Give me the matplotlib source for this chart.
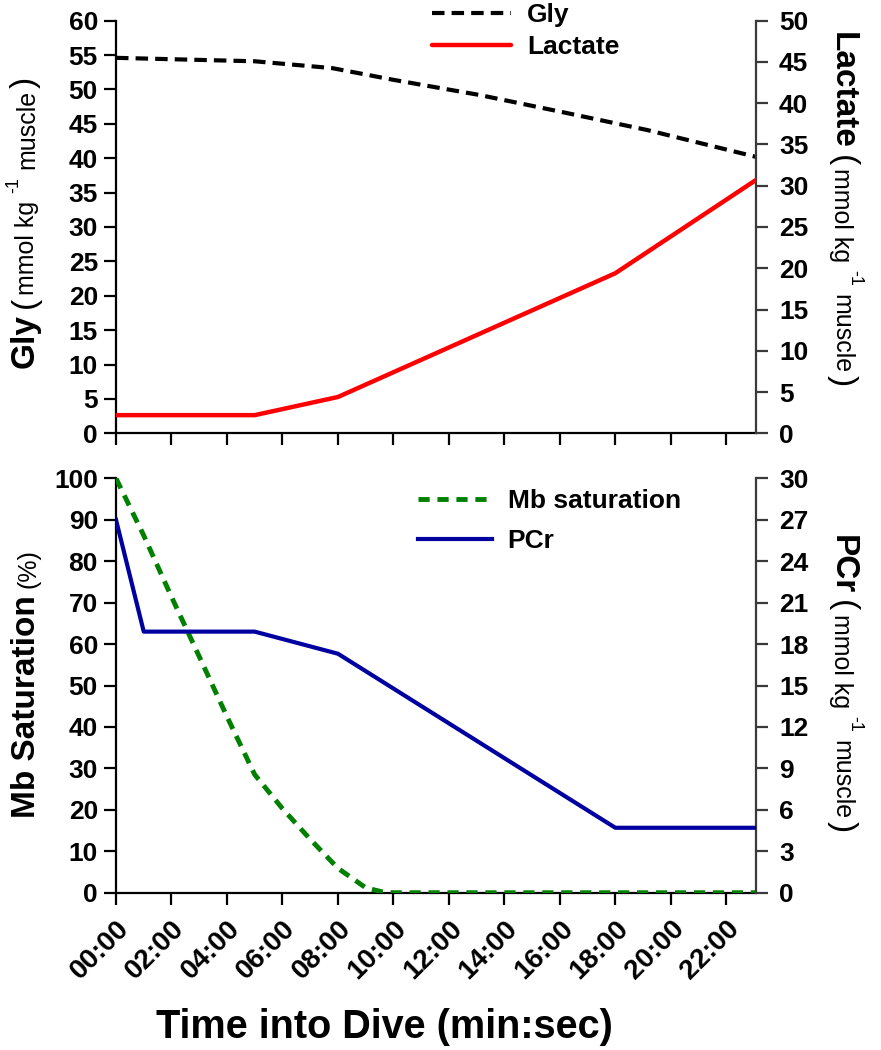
import matplotlib
matplotlib.use('Agg')
import matplotlib.pyplot as plt
from matplotlib.transforms import IdentityTransform

plt.rcParams['font.family'] = ['Liberation Sans', 'DejaVu Sans']

# ---------------- data (time in minutes) ----------------
gly_t = [0, 5, 7.8, 10, 13.1, 16.1, 19.15, 23.07]
gly_v = [54.6, 54.1, 53.1, 51.4, 49.2, 46.7, 44.1, 40.2]

lac_t = [0, 5, 8, 18, 23.07]
lac_v = [2.2, 2.2, 4.4, 19.4, 30.7]

mb_t = [0, 1, 2, 3, 4, 5, 6, 7, 8, 9, 9.6, 10, 23.07]
mb_v = [100, 86.2, 71.4, 57, 42.5, 28.5, 20.3, 12.9, 5.9, 1.2, 0.2, 0, 0]

pcr_t = [0, 1, 5, 8, 18, 23.07]
pcr_v = [27, 18.9, 18.9, 17.3, 4.7, 4.7]

xticks = list(range(0, 23, 2))
xtick_labels = ['00:00', '02:00', '04:00', '06:00', '08:00', '10:00',
                '12:00', '14:00', '16:00', '18:00', '20:00', '22:00']
gly_ticks = list(range(0, 61, 5))
lac_ticks = list(range(0, 51, 5))
mb_ticks = list(range(0, 101, 10))
pcr_ticks = list(range(0, 31, 3))

W, H = 881, 1050
fig = plt.figure(figsize=(W / 100, H / 100), dpi=100)

def fa(l, t, r, b):
    return [l / W, 1 - b / H, (r - l) / W, (b - t) / H]

ax1 = fig.add_axes(fa(116, 20.7, 756, 433.3))
ax1r = ax1.twinx()
ax2 = fig.add_axes(fa(116, 478.3, 756, 892.7))
ax2r = ax2.twinx()

XMAX = 23.07
TICK_LEN = 8.5
TICK_W = 1.6
SPINE_W = 1.6
TICK_FS = 19
RIGHT_COL = '#3a3a3a'

for ax in (ax1, ax2):
    ax.set_xlim(0, XMAX)
    ax.spines['top'].set_visible(False)
    ax.spines['right'].set_visible(False)
    for s in ('left', 'bottom'):
        ax.spines[s].set_linewidth(SPINE_W)
    ax.set_xticks(xticks)
    ax.tick_params(axis='both', direction='out', length=TICK_LEN, width=TICK_W,
                   labelsize=TICK_FS, pad=4.5)
    ax.tick_params(axis='x', pad=8)
for axr in (ax1r, ax2r):
    axr.spines['top'].set_visible(False)
    axr.spines['left'].set_visible(False)
    axr.spines['bottom'].set_visible(False)
    axr.spines['right'].set_linewidth(SPINE_W)
    axr.spines['right'].set_color(RIGHT_COL)
    axr.tick_params(axis='y', direction='out', length=TICK_LEN, width=TICK_W,
                    color=RIGHT_COL, labelsize=TICK_FS, pad=8)

# top panel
l_gly, = ax1.plot(gly_t, gly_v, color='black', lw=3.0, ls=(0, (3, 1.7)),
                  label='Gly', zorder=3)
l_lac, = ax1r.plot(lac_t, lac_v, color='#ff0000', lw=3.2, label='Lactate',
                   solid_capstyle='round', zorder=3)
ax1.set_ylim(0, 60)
ax1.set_yticks(gly_ticks)
ax1.set_xticklabels([])
ax1r.set_ylim(0, 50)
ax1r.set_yticks(lac_ticks)

# bottom panel
l_mb, = ax2.plot(mb_t, mb_v, color='#008000', lw=3.5, ls=(0, (2.3, 1.6)),
                 label='Mb saturation', zorder=3)
l_pcr, = ax2r.plot(pcr_t, pcr_v, color='#0000a0', lw=3.0, label='PCr', zorder=3)
ax2.set_ylim(0, 100)
ax2.set_yticks(mb_ticks)
ax2r.set_ylim(0, 30)
ax2r.set_yticks(pcr_ticks)
ax2.set_xticklabels(xtick_labels, rotation=45, ha='right', va='top',
                    rotation_mode='anchor', fontsize=20, fontweight='bold')

for ax in (ax1, ax1r, ax2, ax2r):
    for lab in ax.get_yticklabels():
        lab.set_fontweight('bold')

# legends
fig.legend(handles=[l_gly, l_lac], loc='upper left',
           bbox_to_anchor=(432 / W, 1 - 3 / H), frameon=False, borderpad=0,
           borderaxespad=0, handlelength=3.0, handletextpad=0.6,
           labelspacing=0.3, prop=dict(weight='bold', size=19))
fig.legend(handles=[l_mb, l_pcr], loc='upper left',
           bbox_to_anchor=(418 / W, 1 - 489 / H), frameon=False, borderpad=0,
           borderaxespad=0, handlelength=2.8, handletextpad=0.6,
           labelspacing=0.6, prop=dict(weight='bold', size=19))

# x label
fig.text(384 / W, 1 - 1027 / H, 'Time into Dive (min:sec)', ha='center',
         va='center', fontsize=28.5, fontweight='bold')

# composite rotated axis labels
renderer = fig.canvas.get_renderer()

def vlabel(pieces, x_base, y_start, rot):
    """pieces: (text, size, weight, raise_px, gap_before_px); image coords."""
    pos = y_start
    for text, size, weight, rise, gap in pieces:
        if rot == 90:
            pos -= gap
            xx = x_base - rise
        else:
            pos += gap
            xx = x_base + rise
        t = fig.text(xx, H - pos, text, rotation=rot, rotation_mode='anchor',
                     ha='left', va='baseline', fontsize=size, fontweight=weight,
                     transform=IdentityTransform())
        bb = t.get_window_extent(renderer)
        if rot == 90:
            pos -= bb.height
        else:
            pos += bb.height

MAIN = 24
INNER = 18
SUP = 13
RISE = 16

def unit_pieces(name):
    return [(name, MAIN, 'bold', 0, 0),
            ('(', MAIN, 'normal', 0, 6),
            ('mmol kg', INNER, 'normal', 0, 2),
            ('-1', SUP, 'normal', RISE, 8),
            ('muscle', INNER, 'normal', 0, 8),
            (')', MAIN, 'normal', 0, 2)]

vlabel(unit_pieces('Gly'), 34, 368, 90)
vlabel([('Mb Saturation', MAIN, 'bold', 0, 0), ('(%)', INNER, 'normal', 0, 7)],
       35, 818, 90)
vlabel(unit_pieces('Lactate'), 834, 32, -90)
vlabel(unit_pieces('PCr'), 834, 535, -90)

fig.savefig('out.png', dpi=100)
